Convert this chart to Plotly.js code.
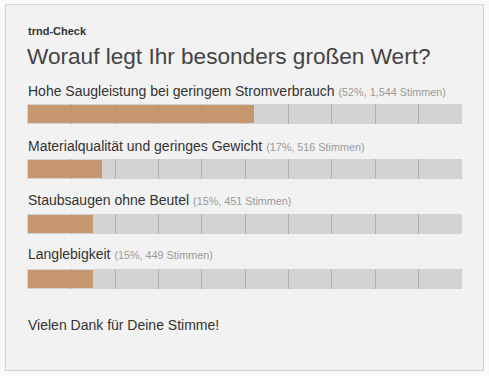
<!DOCTYPE html>
<html>
<head>
<meta charset="utf-8">
<script src="https://cdn.plot.ly/plotly-3.0.1.min.js"></script>
<style>html,body{margin:0;padding:0;background:#fafafa;}#chart{width:489px;height:376px;}</style>
</head>
<body>
<div id="chart"></div>
<script>
// ---- data ----
const categories = [
  "Hohe Saugleistung bei geringem Stromverbrauch",
  "Materialqualität und geringes Gewicht",
  "Staubsaugen ohne Beutel",
  "Langlebigkeit"
];
const percents = [52, 17, 15, 15];
const votes = ["1,544", "516", "451", "449"];
const dividerTicks = [10, 20, 30, 40, 50, 60, 70, 80, 90];
const kicker = "trnd-Check";
const question = "Worauf legt Ihr besonders großen Wert?";
const footer = "Vielen Dank für Deine Stimme!";

// ---- layout helpers (pixel -> paper) ----
const W = 489, H = 376;
const px = x => x / W;
const py = y => 1 - y / H;
const trackTop = [104, 159, 214, 269];
const labelMid = [91, 146, 200, 254];
const trackH = 20;

const traces = [];
const layout = {
  width: W, height: H, autosize: false,
  margin: {l: 0, r: 0, t: 0, b: 0, pad: 0},
  paper_bgcolor: "#f2f2f2",
  plot_bgcolor: "#d3d3d3",
  showlegend: false,
  bargap: 0,
  font: {family: "Liberation Sans, Arial, sans-serif", color: "#333"},
  xaxis: {
    domain: [px(27), px(462)], range: [-0.3, 100], anchor: "y4",
    tickvals: dividerTicks, showticklabels: false, ticks: "",
    showgrid: true, gridcolor: "#b0b0b0", gridwidth: 1,
    zeroline: false, showline: false, fixedrange: true
  },
  shapes: [
    {type: "rect", xref: "paper", yref: "paper", layer: "above",
     x0: 0, x1: 1, y0: 0, y1: 1,
     fillcolor: "rgba(0,0,0,0)", line: {color: "#fafafa", width: 9}},
    {type: "rect", xref: "paper", yref: "paper", layer: "above",
     x0: px(5.5), x1: px(483.5), y0: py(370.5), y1: py(4.5),
     fillcolor: "rgba(0,0,0,0)", line: {color: "#d4d4d4", width: 1}}
  ],
  annotations: []
};

categories.forEach((cat, i) => {
  const yName = i === 0 ? "y" : "y" + (i + 1);
  const axName = i === 0 ? "yaxis" : "yaxis" + (i + 1);
  layout[axName] = {
    domain: [py(trackTop[i] + trackH), py(trackTop[i])],
    range: [-0.5, 0.5], anchor: "x",
    showticklabels: false, showgrid: false, zeroline: false,
    showline: false, ticks: "", fixedrange: true
  };
  traces.push({
    type: "bar", orientation: "h",
    x: [percents[i]], y: [0], xaxis: "x", yaxis: yName,
    width: 0.9,
    marker: {color: "rgba(198,148,106,0.95)", line: {width: 0}},
    hoverinfo: "skip"
  });
  layout.annotations.push({
    xref: "paper", yref: "paper", x: px(26), y: py(labelMid[i]),
    xanchor: "left", yanchor: "middle", showarrow: false,
    text: cat + " <span style='font-size:10.8px;color:#9a9a9a'>(" + percents[i] + "%, " + votes[i] + " Stimmen)</span>",
    font: {size: 14, color: "#333"}
  });
});

layout.annotations.push({
  xref: "paper", yref: "paper", x: px(26), y: py(31),
  xanchor: "left", yanchor: "middle", showarrow: false,
  text: "<b>" + kicker + "</b>", font: {size: 11, color: "#333"}
});
layout.annotations.push({
  xref: "paper", yref: "paper", x: px(25), y: py(56),
  xanchor: "left", yanchor: "middle", showarrow: false,
  text: question, font: {size: 22.6, color: "#444"}
});
layout.annotations.push({
  xref: "paper", yref: "paper", x: px(26), y: py(325),
  xanchor: "left", yanchor: "middle", showarrow: false,
  text: footer, font: {size: 14, color: "#333"}
});

Plotly.newPlot("chart", traces, layout, {displayModeBar: false, staticPlot: true});
</script>
</body>
</html>
